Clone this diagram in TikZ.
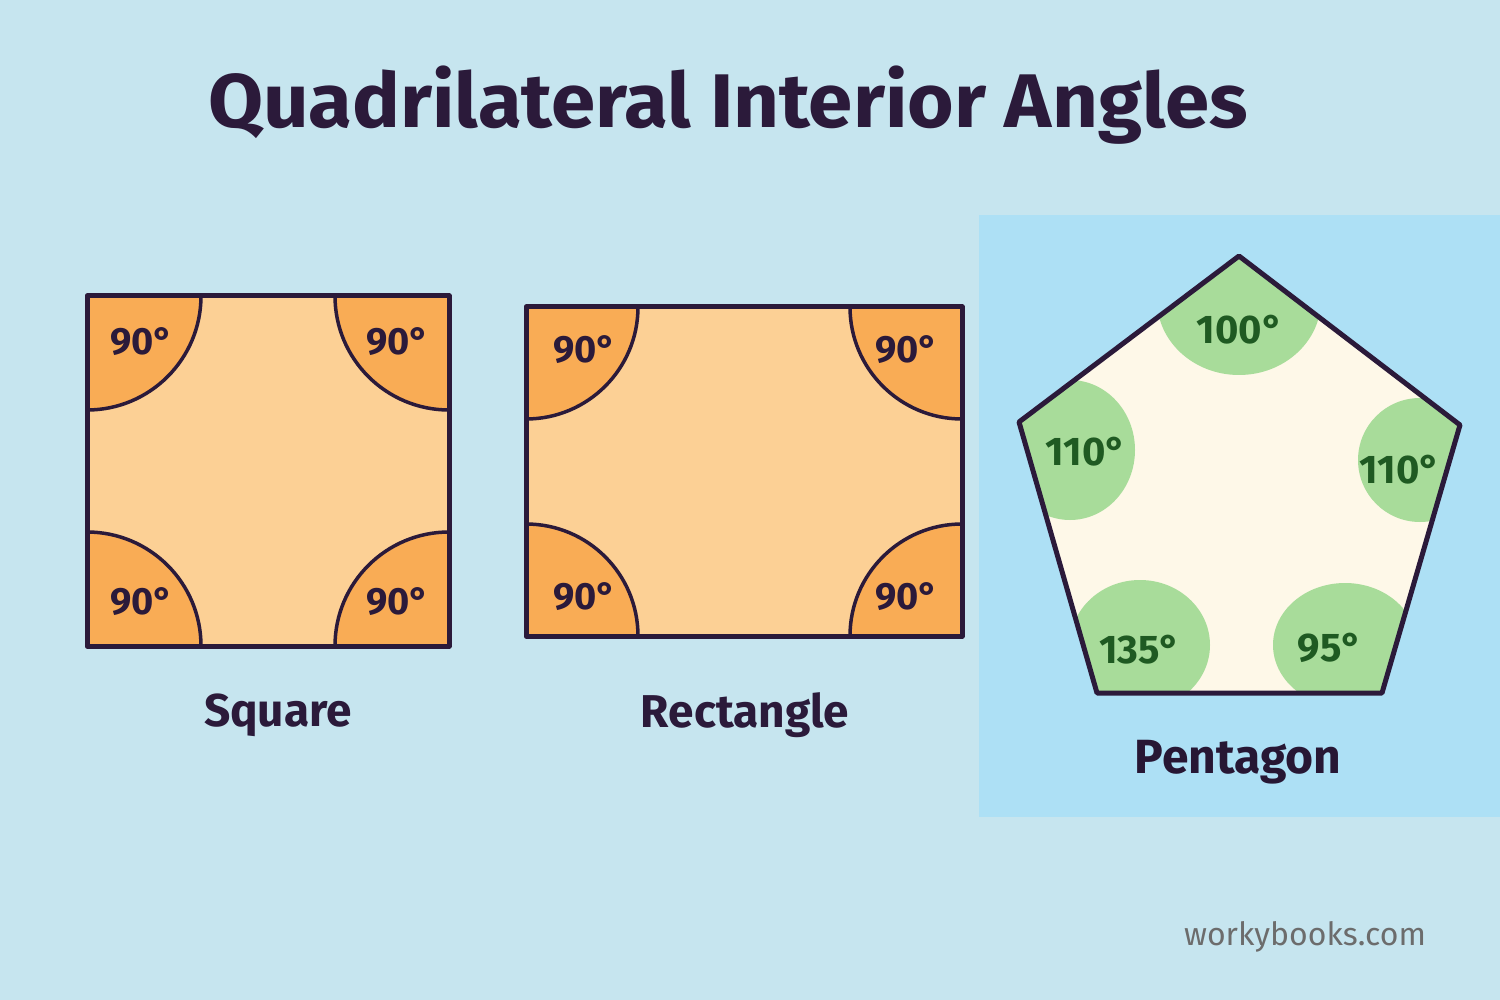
\documentclass[tikz,border=0pt]{standalone}
\usepackage{fontspec}
\setmainfont{Fira Sans}
\definecolor{bg}{HTML}{C6E5EF}
\definecolor{pbg}{HTML}{ADE0F5}
\definecolor{ink}{HTML}{2B1A3A}
\definecolor{sq}{HTML}{FCD095}
\definecolor{corner}{HTML}{F9AC55}
\definecolor{cream}{HTML}{FEF8E8}
\definecolor{gr}{HTML}{A8DC9A}
\definecolor{gtext}{HTML}{1F5A22}
\begin{document}
\begin{tikzpicture}[x=1pt,y=-1pt,
  outl/.style={draw=ink,line width=5pt,line join=round},
  arcl/.style={draw=ink,line width=3.5pt},
  ang/.style={font=\bfseries\fontsize{38}{38}\selectfont,text=ink},
  gang/.style={font=\bfseries\fontsize{40}{40}\selectfont,text=gtext},
  lab/.style={font=\bfseries\fontsize{46}{46}\selectfont,text=ink}]
\fill[bg] (0,0) rectangle (1500,1000);
\node[font=\bfseries\fontsize{76}{76}\selectfont,text=ink,xscale=1.05] (title) at (728,105) {Quadrilateral Interior Angles};
% square
\fill[sq] (87,296) rectangle (449,646);
\begin{scope}
\clip (87,296) rectangle (449,646);
\fill[corner] (87,296) circle (114);
\fill[corner] (449,296) circle (114);
\fill[corner] (87,646) circle (114);
\fill[corner] (449,646) circle (114);
\draw[arcl] (87,296) circle (114) (449,296) circle (114) (87,646) circle (114) (449,646) circle (114);
\end{scope}
\draw[outl] (87,296) rectangle (449,646);
\node[ang] (s1) at (142,342) {90°};
\node[ang] (s2) at (398,342) {90°};
\node[ang] (s3) at (142,602) {90°};
\node[ang] (s4) at (398,602) {90°};
\node[lab] (sqlab) at (278,715) {Square};
% rectangle
\fill[sq] (526,307) rectangle (962,636);
\begin{scope}
\clip (526,307) rectangle (962,636);
\fill[corner] (526,307) circle (112);
\fill[corner] (962,307) circle (112);
\fill[corner] (526,636) circle (112);
\fill[corner] (962,636) circle (112);
\draw[arcl] (526,307) circle (112) (962,307) circle (112) (526,636) circle (112) (962,636) circle (112);
\end{scope}
\draw[outl] (526,307) rectangle (962,636);
\node[ang] (r1) at (585,350) {90°};
\node[ang] (r2) at (907,350) {90°};
\node[ang] (r3) at (585,597) {90°};
\node[ang] (r4) at (907,597) {90°};
\node[lab] (rectlab) at (745,715) {Rectangle};
% pentagon
\fill[pbg] (979,215) rectangle (1500,817);
\fill[cream] (1239,256) -- (1460,425) -- (1382,693) -- (1097,693) -- (1019,422) -- cycle;
\begin{scope}
\clip (1239,256) -- (1460,425) -- (1382,693) -- (1097,693) -- (1019,422) -- cycle;
\fill[gr] (1239,300) ellipse (82 and 75);
\fill[gr] (1070,450) ellipse (65 and 70);
\fill[gr] (1420,460) ellipse (62 and 62);
\fill[gr] (1140,645) ellipse (70 and 65);
\fill[gr] (1345,645) ellipse (72 and 62);
\end{scope}
\draw[outl] (1239,256) -- (1460,425) -- (1382,693) -- (1097,693) -- (1019,422) -- cycle;
\node[gang] (p1) at (1240,330) {100°};
\node[gang] (p2) at (1086,452) {110°};
\node[gang] (p3) at (1400,470) {110°};
\node[gang] (p4) at (1140,650) {135°};
\node[gang] (p5) at (1330,648) {95°};
\node[font=\fontseries{sb}\fontsize{48}{48}\selectfont,text=ink!90!black] (pentlab) at (1238,762) {Pentagon};
\node[font=\fontsize{32}{32}\selectfont,text=gray!85!black] (wm) at (1305,937) {workybooks.com};
\end{tikzpicture}
\end{document}
